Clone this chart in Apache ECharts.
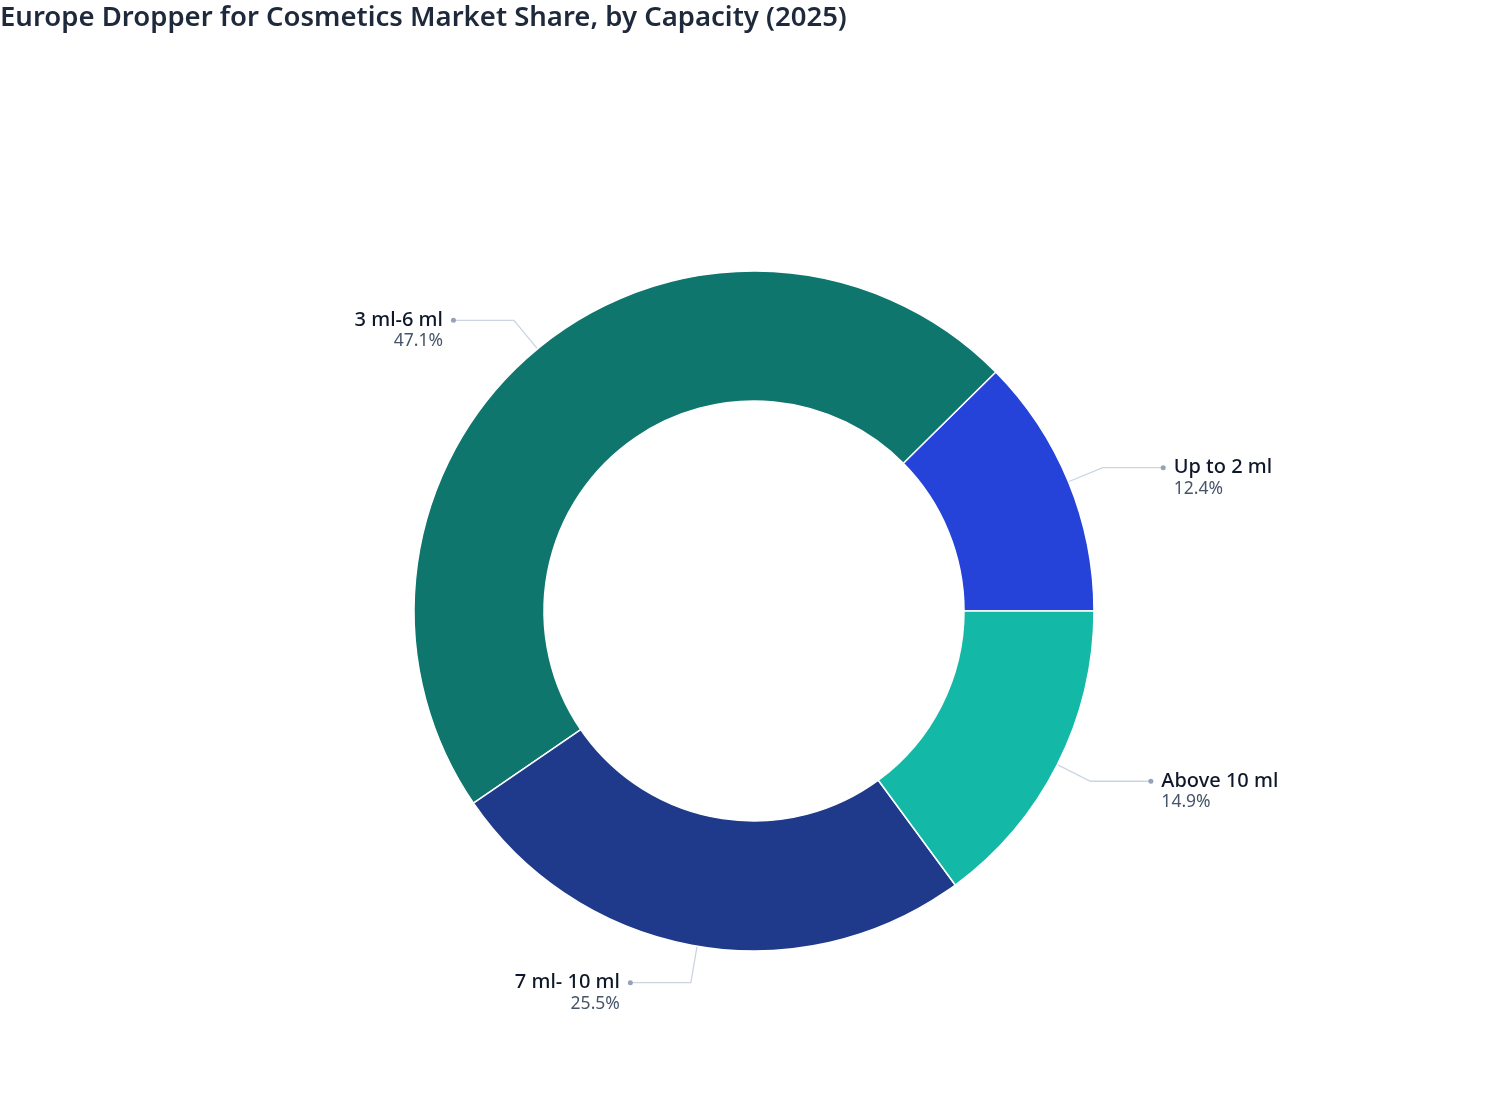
<!DOCTYPE html>
<html>
<head>
<meta charset="utf-8">
<script src="https://cdn.jsdelivr.net/npm/echarts@6/dist/echarts.min.js"></script>
<style>
html,body{margin:0;padding:0;background:#fff;}
#chart{width:1508px;height:1120px;}
</style>
</head>
<body>
<div id="chart"></div>
<script>
const titleText = 'Europe Dropper for Cosmetics Market Share, by Capacity (2025)';
const categories = ['Up to 2 ml', '3 ml-6 ml', '7 ml- 10 ml', 'Above 10 ml'];
const shares = [12.4, 47.1, 25.5, 14.9];
const colors = ['#2643D9', '#0F766E', '#1F3A8A', '#14B8A6'];

// decide label side from slice mid-angles (start at 0°, counter-clockwise)
const total = shares.reduce((a, b) => a + b, 0);
const sides = [];
let acc = 0;
shares.forEach(v => {
  const mid = (acc + v / 2) / total * 2 * Math.PI;
  sides.push(Math.cos(mid) >= 0 ? 'right' : 'left');
  acc += v;
});

const chart = echarts.init(document.getElementById('chart'), null, {renderer: 'canvas'});

const rich = {
  name: {fontFamily: 'Noto Sans', fontSize: 20, fontWeight: 500, color: '#0f172a', lineHeight: 22, verticalAlign: 'middle'},
  pct: {fontFamily: 'Noto Sans', fontSize: 17.5, color: '#475569', lineHeight: 20, verticalAlign: 'middle'},
  dot: {width: 5, height: 5, borderRadius: 2.5, backgroundColor: '#94a3b8', lineHeight: 22, verticalAlign: 'middle'},
  gap: {width: 8, lineHeight: 22},
  sp: {width: 13, lineHeight: 20}
};

chart.setOption({
  backgroundColor: '#ffffff',
  animation: false,
  title: {
    text: titleText,
    left: 0,
    top: 4,
    padding: 0,
    textStyle: {fontFamily: 'Noto Sans', fontSize: 27.5, fontWeight: 600, color: '#1e293b'}
  },
  series: [{
    type: 'pie',
    center: [754, 611],
    radius: [210, 340],
    startAngle: 0,
    clockwise: false,
    avoidLabelOverlap: true,
    itemStyle: {borderColor: '#ffffff', borderWidth: 1.5},
    emphasis: {disabled: true},
    label: {
      show: true,
      position: 'outside',
      distanceToLabelLine: -2,
      padding: [20, 0, 0, 0],
      rich: rich,
      formatter: function (p) {
        const pct = shares[p.dataIndex].toFixed(1) + '%';
        if (sides[p.dataIndex] === 'right') {
          return '{dot|}{gap|}{name|' + p.name + '}\n{sp|}{pct|' + pct + '}';
        }
        return '{name|' + p.name + '}{gap|}{dot|}\n{pct|' + pct + '}{sp|}';
      }
    },
    labelLine: {
      show: true,
      length: 37,
      length2: 60,
      smooth: false,
      lineStyle: {color: '#cbd5e1', width: 1.3}
    },
    data: categories.map((c, i) => ({name: c, value: shares[i], itemStyle: {color: colors[i]}}))
  }]
});
</script>
</body>
</html>
